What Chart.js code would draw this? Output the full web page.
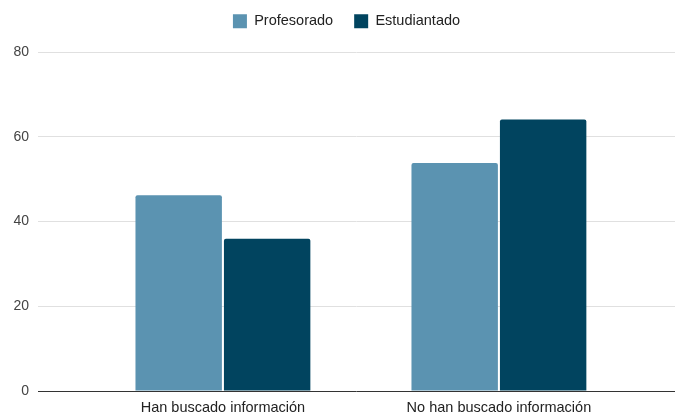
<!DOCTYPE html>
<html>
<head>
<meta charset="utf-8">
<script src="https://cdn.jsdelivr.net/npm/chart.js@4/dist/chart.umd.min.js"></script>
<style>
html,body{margin:0;padding:0;background:#fff;}
#wrap{width:675px;height:414px;}
</style>
</head>
<body>
<div id="wrap"><canvas id="c" width="675" height="414"></canvas></div>
<script>
const categories = ['Han buscado información', 'No han buscado información'];
const profesorado = [46.2, 53.8];
const estudiantado = [35.9, 64.1];
const yTicks = [0, 20, 40, 60, 80];

const toPoints = arr => arr.map((v, i) => ({x: i, y: v}));
const FONT = "'Liberation Sans', Arial, sans-serif";

const legendTweak = {
  id: 'legendTweak',
  afterInit(chart) {
    const lg = chart.legend;
    if (lg) {
      const orig = lg.fit;
      lg.fit = function () { orig.call(this); this.height = 52; };
    }
  },
  afterLayout(chart) {
    const lg = chart.legend;
    if (lg) {
      lg.left += 9; lg.right += 9;
      lg.top -= 7; lg.bottom -= 7;
    }
  }
};

new Chart(document.getElementById('c'), {
  type: 'bar',
  data: {
    datasets: [
      {label: 'Profesorado', data: toPoints(profesorado), backgroundColor: '#5b93b1', borderRadius: 2, borderSkipped: 'bottom'},
      {label: 'Estudiantado', data: toPoints(estudiantado), backgroundColor: '#01445f', borderRadius: 2, borderSkipped: 'bottom'}
    ]
  },
  plugins: [legendTweak],
  options: {
    responsive: false,
    animation: false,
    devicePixelRatio: 1,
    categoryPercentage: 0.641,
    barPercentage: 0.977,
    layout: {padding: 0},
    plugins: {
      legend: {
        position: 'top',
        labels: {
          font: {family: FONT, size: 14.5},
          color: '#222',
          boxWidth: 14,
          boxHeight: 14,
          padding: 21
        }
      },
      tooltip: {enabled: false}
    },
    scales: {
      x: {
        type: 'linear',
        offset: false,
        bounds: 'data',
        min: -0.67,
        max: 1.638,
        grid: {display: false},
        border: {display: false},
        afterBuildTicks(scale) { scale.ticks = categories.map((c, i) => ({value: i})); },
        afterFit(scale) { scale.height = 23; },
        ticks: {
          autoSkip: false,
          maxRotation: 0,
          padding: 0,
          font: {family: FONT, size: 14.5},
          color: '#222',
          callback: (v) => categories[v] ?? ''
        }
      },
      y: {
        min: 0,
        max: 80,
        afterBuildTicks(scale) { scale.ticks = yTicks.map(v => ({value: v})); },
        afterFit(scale) { scale.width = 38; },
        border: {display: false},
        grid: {
          color: (ctx) => ctx.tick && ctx.tick.value === 0 ? '#333' : '#e0e0e0',
          lineWidth: 1,
          drawTicks: false
        },
        ticks: {
          padding: 9,
          font: {family: FONT, size: 14},
          color: '#444'
        }
      }
    }
  }
});
</script>
</body>
</html>
